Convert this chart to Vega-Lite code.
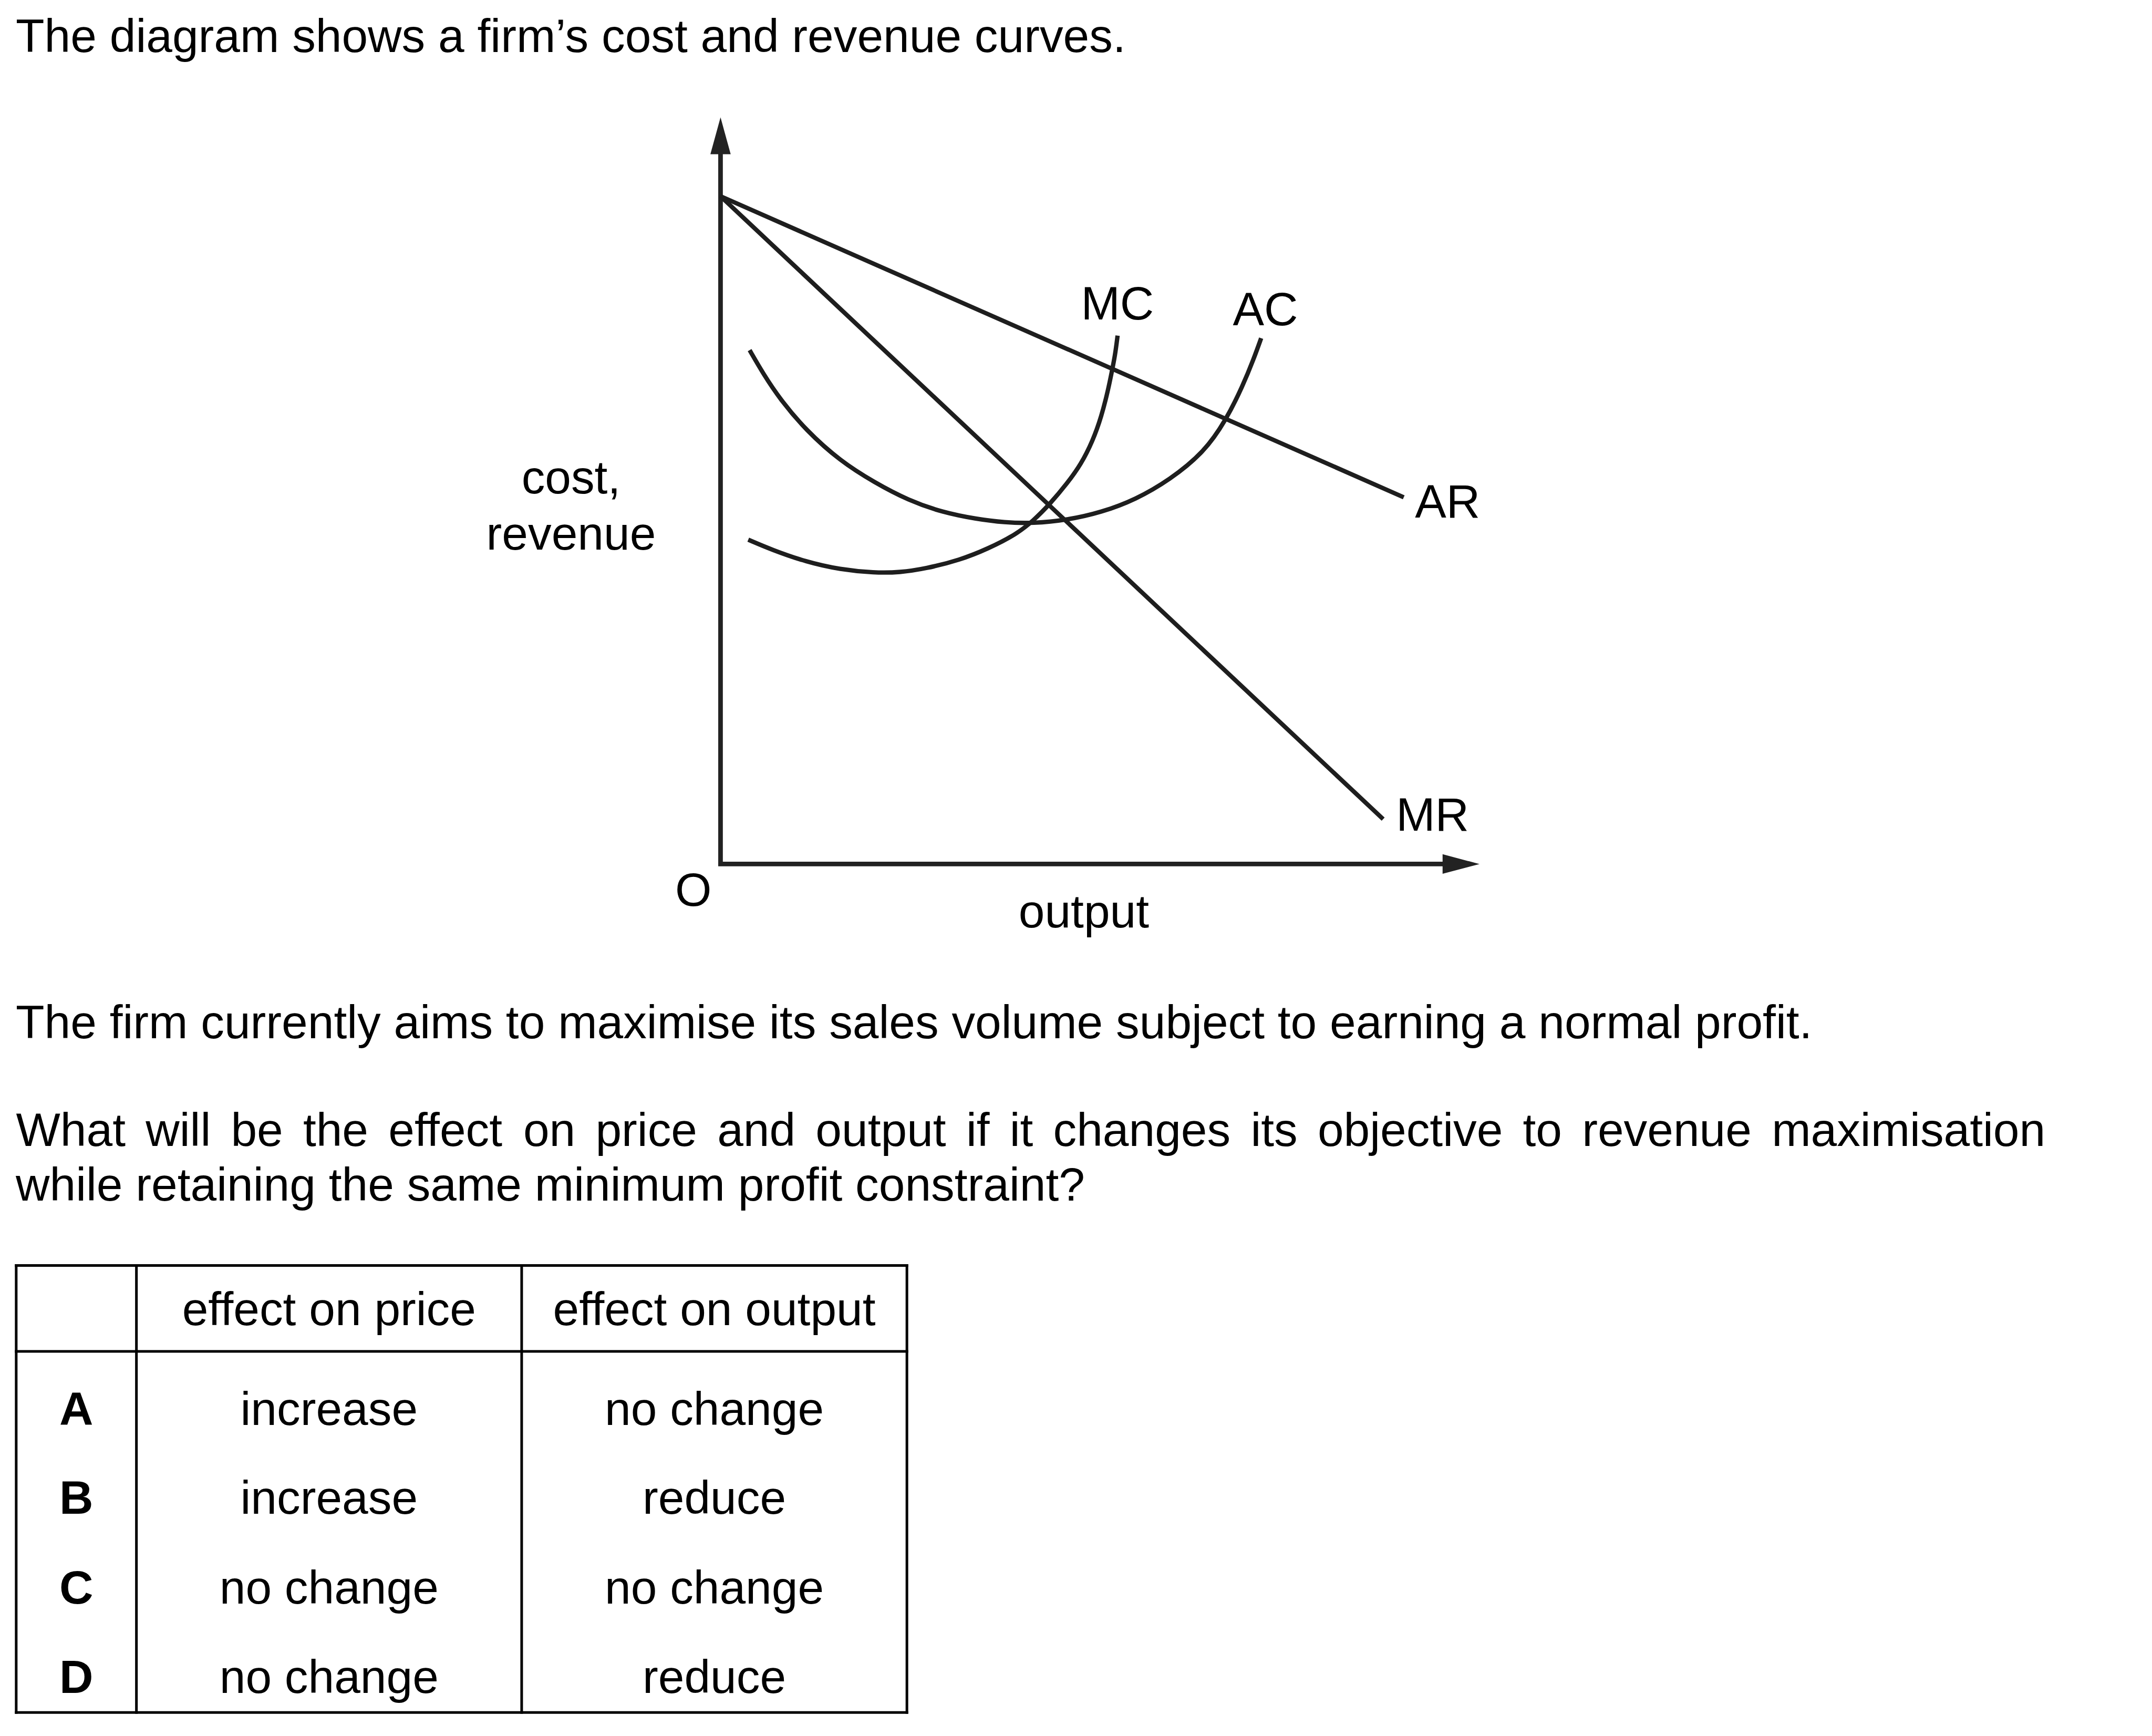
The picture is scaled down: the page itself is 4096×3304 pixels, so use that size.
{
  "$schema": "https://vega.github.io/schema/vega-lite/v6.json",
  "width": 4096,
  "height": 3304,
  "padding": 0,
  "autosize": {"type": "fit", "contains": "padding"},
  "background": "white",
  "config": {"view": {"stroke": null}},
  "datasets": {
    "axisline": [
      {"o": 1, "u": 0, "v": 105.9},
      {"o": 2, "u": 0, "v": 0},
      {"o": 3, "u": 106, "v": 0}
    ],
    "arrowUp": [{"u": 0, "v": 106.11}],
    "arrowRight": [{"u": 107.91, "v": 0}],
    "curves": [
      {"curve": "AR", "u": 0, "v": 97.3},
      {"curve": "AR", "u": 99.56, "v": 53.44},
      {"curve": "MR", "u": 0, "v": 97.3},
      {"curve": "MR", "u": 96.56, "v": 6.54},
      {"curve": "AC", "u": 4.24, "v": 74.88},
      {"curve": "AC", "u": 6.24, "v": 71.4},
      {"curve": "AC", "u": 8.72, "v": 67.66},
      {"curve": "AC", "u": 12.46, "v": 63.2},
      {"curve": "AC", "u": 17.44, "v": 58.72},
      {"curve": "AC", "u": 22.42, "v": 55.6},
      {"curve": "AC", "u": 27.38, "v": 52.98},
      {"curve": "AC", "u": 32.36, "v": 51.24},
      {"curve": "AC", "u": 37.34, "v": 50.26},
      {"curve": "AC", "u": 41.32, "v": 49.76},
      {"curve": "AC", "u": 45.56, "v": 49.62},
      {"curve": "AC", "u": 50.52, "v": 50.12},
      {"curve": "AC", "u": 55.5, "v": 51.24},
      {"curve": "AC", "u": 60.48, "v": 53.1},
      {"curve": "AC", "u": 65.46, "v": 55.98},
      {"curve": "AC", "u": 70.44, "v": 59.96},
      {"curve": "AC", "u": 73.66, "v": 64.68},
      {"curve": "AC", "u": 76.1, "v": 69.66},
      {"curve": "AC", "u": 77.7, "v": 73.6},
      {"curve": "AC", "u": 78.78, "v": 76.62},
      {"curve": "MC", "u": 4.04, "v": 47.26},
      {"curve": "MC", "u": 7.48, "v": 45.78},
      {"curve": "MC", "u": 12.46, "v": 44.02},
      {"curve": "MC", "u": 17.44, "v": 42.9},
      {"curve": "MC", "u": 22.42, "v": 42.42},
      {"curve": "MC", "u": 26.14, "v": 42.48},
      {"curve": "MC", "u": 29.88, "v": 43.04},
      {"curve": "MC", "u": 34.86, "v": 44.28},
      {"curve": "MC", "u": 39.0, "v": 45.95},
      {"curve": "MC", "u": 43.06, "v": 48.02},
      {"curve": "MC", "u": 45.56, "v": 50.0},
      {"curve": "MC", "u": 48.04, "v": 52.5},
      {"curve": "MC", "u": 50.52, "v": 55.48},
      {"curve": "MC", "u": 52.52, "v": 58.22},
      {"curve": "MC", "u": 54.26, "v": 61.7},
      {"curve": "MC", "u": 55.5, "v": 65.18},
      {"curve": "MC", "u": 56.5, "v": 69.16},
      {"curve": "MC", "u": 57.0, "v": 71.66},
      {"curve": "MC", "u": 57.5, "v": 74.14},
      {"curve": "MC", "u": 57.86, "v": 77.0}
    ],
    "textLeft": [
      {"u": -102.7, "v": 118.3, "t": "The diagram shows a firm’s cost and revenue curves."},
      {"u": -102.7, "v": -25.36, "t": "The firm currently aims to maximise its sales volume subject to earning a normal profit."},
      {"u": -102.66, "v": -41.08, "t": "What"},
      {"u": -83.774, "v": -41.08, "t": "will"},
      {"u": -71.36, "v": -41.08, "t": "be"},
      {"u": -60.832, "v": -41.08, "t": "the"},
      {"u": -48.402, "v": -41.08, "t": "effect"},
      {"u": -28.75, "v": -41.08, "t": "on"},
      {"u": -18.222, "v": -41.08, "t": "price"},
      {"u": -0.48, "v": -41.08, "t": "and"},
      {"u": 13.852, "v": -41.08, "t": "output"},
      {"u": 35.79, "v": -41.08, "t": "if"},
      {"u": 42.13, "v": -41.08, "t": "it"},
      {"u": 48.472, "v": -41.08, "t": "changes"},
      {"u": 77.248, "v": -41.08, "t": "its"},
      {"u": 87.01, "v": -41.08, "t": "objective"},
      {"u": 116.92, "v": -41.08, "t": "to"},
      {"u": 125.546, "v": -41.08, "t": "revenue"},
      {"u": 153.18, "v": -41.08, "t": "maximisation"},
      {"u": -102.7, "v": -49.04, "t": "while retaining the same minimum profit constraint?"},
      {"u": 101.2, "v": 50.5, "t": "AR"},
      {"u": 98.44, "v": 4.82, "t": "MR"}
    ],
    "textCenter": [
      {"u": 57.84, "v": 79.36, "t": "MC"},
      {"u": 79.4, "v": 78.5, "t": "AC"},
      {"u": -3.96, "v": -6.1, "t": "O"},
      {"u": 52.94, "v": -9.2, "t": "output"},
      {"u": -21.78, "v": 54.04, "t": "cost,"},
      {"u": -21.78, "v": 45.82, "t": "revenue"},
      {"u": -57.05, "v": -67.2, "t": "effect on price"},
      {"u": -0.91, "v": -67.2, "t": "effect on output"},
      {"u": -57.05, "v": -81.74, "t": "increase"},
      {"u": -0.91, "v": -81.74, "t": "no change"},
      {"u": -57.05, "v": -94.7, "t": "increase"},
      {"u": -0.91, "v": -94.7, "t": "reduce"},
      {"u": -57.05, "v": -107.78, "t": "no change"},
      {"u": -0.91, "v": -107.78, "t": "no change"},
      {"u": -57.05, "v": -120.76, "t": "no change"},
      {"u": -0.91, "v": -120.76, "t": "reduce"}
    ],
    "textBold": [
      {"u": -93.88, "v": -81.74, "t": "A"},
      {"u": -93.88, "v": -94.7, "t": "B"},
      {"u": -93.88, "v": -107.78, "t": "C"},
      {"u": -93.88, "v": -120.76, "t": "D"}
    ],
    "grid": [
      {"u": -102.64, "v": -58.5, "u2": 27.16, "v2": -58.5},
      {"u": -102.64, "v": -71.02, "u2": 27.16, "v2": -71.02},
      {"u": -102.64, "v": -123.64, "u2": 27.16, "v2": -123.64},
      {"u": -102.64, "v": -58.5, "u2": -102.64, "v2": -123.64},
      {"u": -85.12, "v": -58.5, "u2": -85.12, "v2": -123.64},
      {"u": -28.98, "v": -58.5, "u2": -28.98, "v2": -123.64},
      {"u": 27.16, "v": -58.5, "u2": 27.16, "v2": -123.64}
    ]
  },
  "encoding": {
    "x": {"field": "u", "type": "quantitative", "scale": {"domain": [-105, 208.6], "zero": false, "nice": false}, "axis": null},
    "y": {"field": "v", "type": "quantitative", "scale": {"domain": [-127.06, 125.9], "zero": false, "nice": false}, "axis": null}
  },
  "layer": [
    {
      "data": {"name": "grid"},
      "mark": {"type": "rule", "color": "black", "strokeWidth": 5, "strokeCap": "square", "clip": false},
      "encoding": {
        "x2": {"field": "u2"},
        "y2": {"field": "v2"}
      }
    },
    {
      "data": {"name": "axisline"},
      "mark": {"type": "line", "color": "#222222", "strokeWidth": 8.8, "strokeCap": "butt", "strokeJoin": "miter", "clip": false},
      "encoding": {"order": {"field": "o", "type": "quantitative"}}
    },
    {
      "data": {"name": "arrowUp"},
      "mark": {"type": "point", "shape": "M0,-1L-0.55,1L0.55,1Z", "size": 4937, "filled": true, "color": "#222222", "opacity": 1, "strokeWidth": 0}
    },
    {
      "data": {"name": "arrowRight"},
      "mark": {"type": "point", "shape": "M1,0L-1,-0.53L-1,0.53Z", "size": 4937, "filled": true, "color": "#222222", "opacity": 1, "strokeWidth": 0}
    },
    {
      "data": {"name": "curves"},
      "mark": {"type": "line", "color": "#1e1e1e", "strokeWidth": 8.3, "strokeCap": "butt", "interpolate": "basis", "clip": false},
      "encoding": {"detail": {"field": "curve", "type": "nominal"}}
    },
    {
      "data": {"name": "textLeft"},
      "mark": {"type": "text", "align": "left", "baseline": "alphabetic", "font": "Liberation Sans", "fontSize": 89.3, "color": "black"},
      "encoding": {"text": {"field": "t", "type": "nominal"}}
    },
    {
      "data": {"name": "textCenter"},
      "mark": {"type": "text", "align": "center", "baseline": "alphabetic", "font": "Liberation Sans", "fontSize": 89.3, "color": "black"},
      "encoding": {"text": {"field": "t", "type": "nominal"}}
    },
    {
      "data": {"name": "textBold"},
      "mark": {"type": "text", "align": "center", "baseline": "alphabetic", "font": "Liberation Sans", "fontSize": 89.3, "fontWeight": "bold", "color": "black"},
      "encoding": {"text": {"field": "t", "type": "nominal"}}
    }
  ]
}
